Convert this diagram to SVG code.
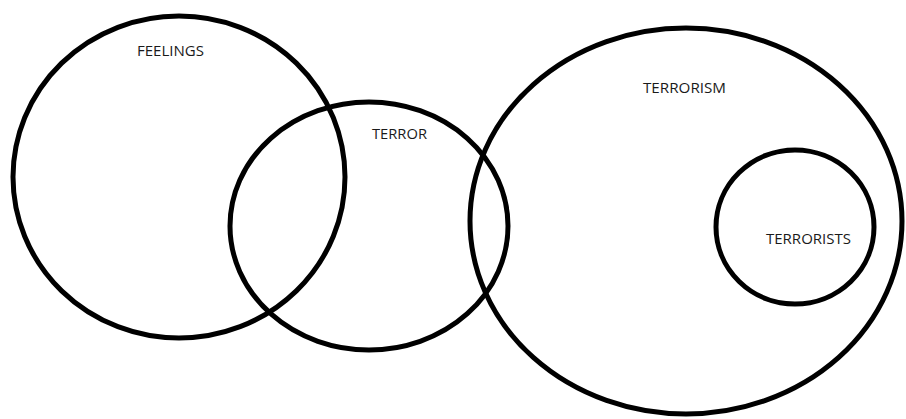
<svg xmlns="http://www.w3.org/2000/svg" width="906" height="419" viewBox="0 0 906 419">
<style>
.c{fill:none;stroke:#000;stroke-width:5}
.t{font-family:"Open Sans","Liberation Sans",sans-serif;font-size:15px;fill:#1a1a1a}
</style>
<rect width="906" height="419" fill="#fff"/>
<g id="feelings"><ellipse class="c" cx="179" cy="177" rx="166" ry="161"/><text class="t" x="137" y="56" textLength="67" lengthAdjust="spacingAndGlyphs">FEELINGS</text></g>
<g id="terror"><ellipse class="c" cx="369" cy="226" rx="139" ry="124"/><text class="t" x="372" y="139" textLength="55" lengthAdjust="spacingAndGlyphs">TERROR</text></g>
<g id="terrorism"><ellipse class="c" cx="686" cy="221" rx="216" ry="193"/><text class="t" x="643" y="93" textLength="83" lengthAdjust="spacingAndGlyphs">TERRORISM</text></g>
<g id="terrorists"><ellipse class="c" cx="795" cy="227" rx="79" ry="77"/><text class="t" x="766" y="244" textLength="85" lengthAdjust="spacingAndGlyphs">TERRORISTS</text></g>
<g id="connectors"/>
</svg>
